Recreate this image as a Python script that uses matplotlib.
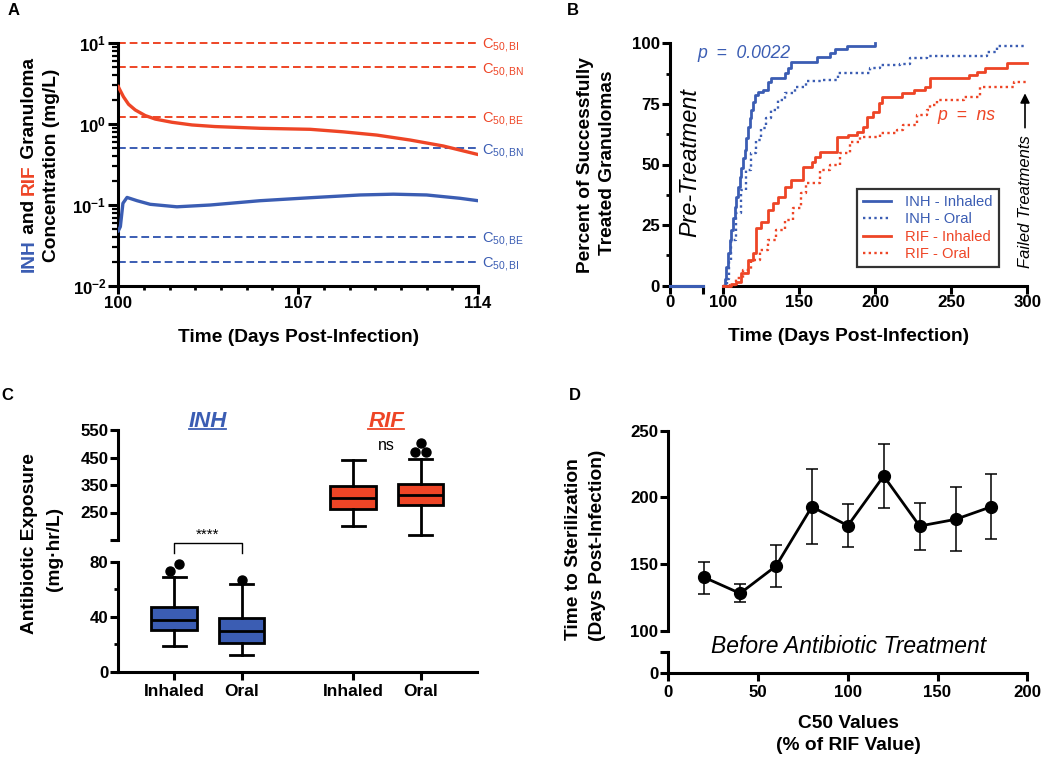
import numpy as np
import matplotlib.pyplot as plt
from matplotlib.lines import Line2D

plt.rcParams['font.family'] = ['Liberation Sans', 'DejaVu Sans']
plt.rcParams['mathtext.fontset'] = 'custom'
plt.rcParams['mathtext.rm'] = 'Liberation Sans'
plt.rcParams['mathtext.it'] = 'Liberation Sans:italic'
plt.rcParams['mathtext.bf'] = 'Liberation Sans:bold'

RED = '#EE4526'
BLUE = '#3B5DB3'

###############################################################################
# DATA
###############################################################################
# A - granuloma concentrations (mg/L)
rif_days = [100, 100.03, 100.2, 100.4, 100.66, 101.05, 101.44, 102.09, 102.87, 103.76, 105.52, 107.47,
            108.76, 110.06, 111.36, 112.65, 114]
rif_conc = [2.9, 2.76, 2.17, 1.75, 1.49, 1.27, 1.15, 1.05, 0.973, 0.93, 0.885, 0.86,
            0.80, 0.73, 0.634, 0.535, 0.42]
inh_days = [100, 100.08, 100.18, 100.34, 100.73, 101.24, 102.28, 103.58, 105.52, 107.47, 109.41, 110.71, 112.0, 113.3, 114]
inh_conc = [0.048, 0.054, 0.105, 0.124, 0.113, 0.102, 0.095, 0.1, 0.113, 0.123, 0.133, 0.136, 0.133, 0.121, 0.113]
rif_c50 = [10, 5, 1.22]
rif_c50_names = ['BI', 'BN', 'BE']
inh_c50 = [0.5, 0.04, 0.02]
inh_c50_names = ['BN', 'BE', 'BI']

# B - percent of successfully treated granulomas
inh_inh_days = [100, 101.7, 102.4, 103.5, 104.6, 105.7, 106.8, 107.9, 108.9, 110.1, 111.2, 112.2, 113.3,
                114.5, 115.5, 116.6, 117.7, 118.8, 119.9, 121.0, 123.2, 126.5, 129.8, 132, 140.7, 142.9,
                145.1, 161.8, 170.5, 173.8, 181.5, 200, 200]
inh_inh_pct = [0, 2.6, 7.8, 13.4, 18.9, 23, 27.8, 32.6, 36.7, 40.8, 45, 48.4, 52.6,
               56, 60.8, 65.6, 69, 72.5, 75.9, 78.7, 80, 80.7, 84.2, 85.6, 87.6, 89.7,
               92.4, 94.2, 96.1, 97.5, 98.9, 98.9, 100]
inh_oral_days = [100, 103, 104.4, 105.7, 108.9, 112.2, 115.5, 118.8, 122.1, 125.4, 128.7, 132, 136.3, 140.7,
                 147.3, 154.9, 165.1, 176, 196.8, 203.4, 216.5, 223.1, 234, 273.5, 280.1, 300]
inh_oral_pct = [0, 2.6, 10.6, 18.9, 30, 39.5, 47.7, 54.6, 60.1, 64.9, 69, 72.5, 76.6, 79.4,
                82.1, 84.6, 84.9, 87.9, 89.7, 91.0, 91.5, 93.8, 94.9, 96.5, 98.9, 98.9]
rif_inh_days = [100, 105.7, 108.9, 112.2, 116.6, 119.9, 122.1, 125.4, 129.8, 133.1, 136.3, 140.7, 145.1,
                152.8, 158.5, 160.7, 163.9, 174.9, 182.5, 188.1, 192.4, 194.6, 199, 202.3, 204.5, 217.6,
                225.3, 233, 236.3, 261.5, 267, 272.4, 286.7, 300]
rif_inh_pct = [0, 0.5, 1.7, 5.1, 10.6, 13.4, 23.7, 26.4, 31.2, 34, 36.7, 40.8, 43.6,
               49.1, 51.2, 53.2, 55.3, 61.5, 62.2, 63.5, 65.6, 69.7, 71.8, 75.2, 78, 79.4,
               80.7, 82.1, 85.6, 86.9, 88.3, 89.7, 91.7, 91.7]
rif_oral_days = [100, 104.6, 108.9, 113.3, 118.8, 124.3, 129.8, 135.3, 140.7, 146.2, 151.7, 155, 163.9,
                 170.5, 177.1, 183.7, 190.2, 203.4, 214.3, 218.7, 227.5, 234.1, 236.3, 240.7, 258.2,
                 269.1, 291, 300]
rif_oral_pct = [0, 0.3, 3, 6.5, 10.6, 14.7, 18.9, 23, 27.1, 31.9, 38.1, 42.2, 47.7,
                49.8, 54.6, 59.4, 61.5, 62.9, 64.2, 66.3, 70.4, 72.5, 74.5, 76.6, 78,
                82.1, 84.2, 84.2]

# C - antibiotic exposure box plots (mg*hr/L)
box_labels = ['Inhaled', 'Oral', 'Inhaled', 'Oral']
box_q1 = [30.3, 20.6, 261, 275.5]
box_med = [37.6, 29.6, 303.4, 314.4]
box_q3 = [46.8, 38.8, 347, 352]
box_wlo = [18.9, 11.9, 201.4, 170]
box_whi = [68.6, 63.8, 439.5, 444.3]
box_fliers = [[73.2, 78], [66.7], [], [471, 471, 503.8]]

# D - time to sterilization vs C50
c50_pct = [20, 40, 60, 80, 100, 120, 140, 160, 180]
ster_time = [140, 128, 148.5, 193, 178.75, 216, 178.5, 183.5, 193]
ster_lo = [127.75, 121.25, 133, 165.25, 162.75, 192, 160.75, 160, 168.75]
ster_hi = [151.75, 134.75, 164.25, 221.5, 195.25, 240, 196, 207.5, 217.25]

###############################################################################
W, H = 1050, 758
fig = plt.figure(figsize=(10.5, 7.58), dpi=100)


def rect(l, t, r, b):
    return [l / W, 1 - b / H, (r - l) / W, (b - t) / H]


def style(ax, left=True, bottom=True):
    for s in ['top', 'right']:
        ax.spines[s].set_visible(False)
    ax.spines['left'].set_visible(left)
    ax.spines['bottom'].set_visible(bottom)
    for s in ['left', 'bottom']:
        ax.spines[s].set_linewidth(2.2)
    ax.tick_params(which='major', length=5.5, width=2.2, labelsize=12.2, pad=1.5)
    ax.tick_params(which='minor', length=3, width=2.0)
    for lab in ax.get_xticklabels() + ax.get_yticklabels():
        lab.set_fontweight('bold')


def fig_text(x, y, s, **kw):
    return fig.text(x / W, 1 - y / H, s, **kw)


LBL = dict(fontsize=13.8, fontweight='bold', ha='center', va='center')

# ---------------------------------------------------------------- A
ax_a = fig.add_axes(rect(118.3, 43, 478, 286))
ax_a.set_yscale('log')
ax_a.plot(rif_days, rif_conc, color=RED, lw=2.4, zorder=3)
ax_a.plot(inh_days, inh_conc, color=BLUE, lw=2.4, zorder=3)
for vals, names, col in [(rif_c50, rif_c50_names, RED), (inh_c50, inh_c50_names, BLUE)]:
    for v, n in zip(vals, names):
        ax_a.axhline(v, color=col, ls=(0, (4, 2)), lw=1.4, clip_on=False)
        ax_a.annotate(r'C$_{\mathrm{50,%s}}$' % n, xy=(114, v), xytext=(3, -3.8),
                      textcoords='offset points', color=col, fontsize=10.5, va='baseline',
                      annotation_clip=False)
ax_a.set_xlim(100, 114)
ax_a.set_ylim(0.01, 10)
ax_a.set_xticks([100, 107, 114])
ax_a.set_xticks(np.arange(100, 115), minor=True)
ax_a.set_yticks([0.01, 0.1, 1, 10])
ax_a.set_yticklabels([r'$\mathbf{10^{-2}}$', r'$\mathbf{10^{-1}}$', r'$\mathbf{10^{0}}$', r'$\mathbf{10^{1}}$'])
style(ax_a)
ax_a.tick_params(axis='y', which='major', length=7)
ax_a.tick_params(axis='y', which='minor', length=4, width=1.6)

fig_text(298.3, 337.3, 'Time (Days Post-Infection)', **LBL)
# multicolour y label, line 1, built piece by piece from the bottom up
parts = [('INH', BLUE), (' and ', 'black'), ('RIF', RED), (' Granuloma', 'black')]
prev = fig_text(29, 272, parts[0][0], color=parts[0][1], rotation=90, fontsize=13.8,
                fontweight='bold', ha='center', va='bottom')
for s, c in parts[1:]:
    prev = ax_a.annotate(s, xy=(0.5, 1), xycoords=prev, color=c, rotation=90, fontsize=13.8,
                         fontweight='bold', ha='center', va='bottom')
fig_text(52, 165, 'Concentration (mg/L)', rotation=90, **LBL)

# ---------------------------------------------------------------- B
ax_b1 = fig.add_axes(rect(669.7, 43.3, 702.7, 285.7))
ax_b2 = fig.add_axes(rect(722.7, 43.3, 1027.3, 285.7))
ax_b1.plot([0, 20], [0, 0], color=BLUE, lw=2.2, clip_on=False, zorder=4)
ax_b1.set_xlim(0, 20)
ax_b1.set_ylim(0, 100)
ax_b1.set_xticks([0, 20])
ax_b1.set_xticklabels(['0', ''])
ax_b1.set_yticks([0, 25, 50, 75, 100])
ax_b1.set_yticks([12.5, 37.5, 62.5, 87.5], minor=True)
style(ax_b1)

ax_b2.plot(inh_inh_days, inh_inh_pct, drawstyle='steps-post', color=BLUE, lw=2.0,
           label='INH - Inhaled', clip_on=False, zorder=4)
ax_b2.plot(inh_oral_days, inh_oral_pct, drawstyle='steps-post', color=BLUE, lw=1.7,
           ls=(0, (1, 1.4)), label='INH - Oral', clip_on=False, zorder=4)
ax_b2.plot(rif_inh_days, rif_inh_pct, drawstyle='steps-post', color=RED, lw=2.0,
           label='RIF - Inhaled', clip_on=False, zorder=4)
ax_b2.plot(rif_oral_days, rif_oral_pct, drawstyle='steps-post', color=RED, lw=1.7,
           ls=(0, (1, 1.4)), label='RIF - Oral', clip_on=False, zorder=4)
ax_b2.set_xlim(100, 300)
ax_b2.set_ylim(0, 100)
ax_b2.set_xticks([100, 150, 200, 250, 300])
ax_b2.set_yticks([])
style(ax_b2, left=False)
leg = ax_b2.legend(loc='lower left', bbox_to_anchor=(0.44, 0.078), fontsize=10.6,
                   frameon=True, fancybox=False, edgecolor='black', handlelength=1.9,
                   handletextpad=1.0, labelspacing=0.22, borderpad=0.4, borderaxespad=0)
leg.get_frame().set_linewidth(1.6)
for t, c in zip(leg.get_texts(), [BLUE, BLUE, RED, RED]):
    t.set_color(c)

fig_text(586, 165, 'Percent of Successfully', rotation=90, **LBL)
fig_text(608, 162.5, 'Treated Granulomas', rotation=90, **LBL)
fig_text(848.3, 336.7, 'Time (Days Post-Infection)', **LBL)
fig_text(690, 163, 'Pre-Treatment', rotation=90, fontsize=16.8, style='italic', ha='center', va='center')
fig_text(697, 53, 'p  =  0.0022', color=BLUE, fontsize=12.7, style='italic', ha='left', va='center')
fig_text(937, 116, 'p  =  ns', color=RED, fontsize=12.7, style='italic', ha='left', va='center')
fig_text(1025, 202, 'Failed Treatments', rotation=90, fontsize=12, style='italic', ha='center', va='center')
fig.add_artist(plt.Annotation('', xy=(1025 / W, 1 - 93.3 / H), xytext=(1025 / W, 1 - 127.7 / H),
                              xycoords='figure fraction', textcoords='figure fraction',
                              arrowprops=dict(arrowstyle='-|>', color='black', lw=1.2,
                                              mutation_scale=14, shrinkA=0, shrinkB=0)))

# ---------------------------------------------------------------- C
ax_c1 = fig.add_axes(rect(118.3, 430, 476.7, 540))
ax_c2 = fig.add_axes(rect(118.3, 561.7, 476.7, 671.7))
box_pos = [1, 2, 3.656, 4.656]
stats = []
for i in range(4):
    stats.append(dict(med=box_med[i], q1=box_q1[i], q3=box_q3[i], whislo=box_wlo[i],
                      whishi=box_whi[i], fliers=[], label=box_labels[i]))
bprops = dict(patch_artist=True, showfliers=False, widths=0.68,
              boxprops=dict(linewidth=2.0, edgecolor='black'),
              medianprops=dict(color='black', linewidth=2.0),
              whiskerprops=dict(color='black', linewidth=2.0),
              capprops=dict(color='black', linewidth=2.0))
b_low = ax_c2.bxp(stats[:2], positions=box_pos[:2], **bprops)
b_up = ax_c1.bxp(stats[2:], positions=box_pos[2:], **bprops)
for p in b_low['boxes']:
    p.set_facecolor(BLUE)
for p in b_up['boxes']:
    p.set_facecolor(RED)
# outliers, nudged sideways as in the original
flier_dx = [[-0.07, 0.07], [0.0], [], [-0.08, 0.08, 0.0]]
for i in range(4):
    ax = ax_c2 if i < 2 else ax_c1
    for v, dx in zip(box_fliers[i], flier_dx[i]):
        ax.plot(box_pos[i] + dx, v, 'o', color='black', ms=6.5, clip_on=False)

for ax in (ax_c1, ax_c2):
    ax.set_xlim(0.17, 5.49)
ax_c1.set_ylim(150, 550)
ax_c1.set_yticks([150, 250, 350, 450, 550])
ax_c1.set_yticklabels(['', '250', '350', '450', '550'])
ax_c1.set_xticks([])
style(ax_c1, bottom=False)
ax_c2.set_ylim(0, 80)
ax_c2.set_yticks([0, 40, 80])
ax_c2.set_yticks([20, 60], minor=True)
ax_c2.set_xticks(box_pos)
ax_c2.set_xticklabels(box_labels)
style(ax_c2)
ax_c2.tick_params(axis='x', labelsize=12.5, pad=3)

ax_c2.plot([1, 1, 2, 2], [86.1, 93.4, 93.4, 86.1], color='black', lw=1.0, clip_on=False)
ax_c2.text(1.5, 94.5, '****', ha='center', va='bottom', fontsize=11, clip_on=False)
ax_c1.text(4.156, 495, 'ns', ha='center', va='center', fontsize=11.5)

fig_text(207.3, 426.7, 'INH', color=BLUE, fontsize=16, fontweight='bold', style='italic',
         ha='center', va='baseline')
fig_text(386.7, 426.7, 'RIF', color=RED, fontsize=16, fontweight='bold', style='italic',
         ha='center', va='baseline')
fig.add_artist(Line2D([188.7 / W, 226 / W], [1 - 429 / H] * 2, color=BLUE, lw=1.3))
fig.add_artist(Line2D([368.3 / W, 404 / W], [1 - 429 / H] * 2, color=RED, lw=1.3))
fig_text(30, 544, 'Antibiotic Exposure', rotation=90, **LBL)
fig_text(55, 549, '(mg·hr/L)', rotation=90, **LBL)

# ---------------------------------------------------------------- D
ax_d1 = fig.add_axes(rect(668.3, 430.7, 1027.3, 630.7))
ax_d2 = fig.add_axes(rect(668.3, 651.7, 1027.3, 673.3))
yerr = [np.array(ster_time) - np.array(ster_lo), np.array(ster_hi) - np.array(ster_time)]
ax_d1.errorbar(c50_pct, ster_time, yerr=yerr, fmt='-o', color='black', lw=2.0, ms=8.5,
               elinewidth=1.1, capsize=4.5, capthick=1.1, clip_on=False)
ax_d1.set_xlim(0, 200)
ax_d1.set_ylim(100, 250)
ax_d1.set_yticks([100, 150, 200, 250])
ax_d1.set_xticks([])
style(ax_d1, bottom=False)
ax_d2.set_xlim(0, 200)
ax_d2.set_ylim(0, 16)
ax_d2.set_yticks([0, 16])
ax_d2.set_yticklabels(['0', ''])
ax_d2.set_xticks([0, 50, 100, 150, 200])
style(ax_d2)
ax_d2.tick_params(axis='x', pad=3)

fig_text(848.3, 646.7, 'Before Antibiotic Treatment', fontsize=16.5, style='italic',
         ha='center', va='center')
fig_text(573, 549, 'Time to Sterilization', rotation=90, **LBL)
fig_text(598, 545, '(Days Post-Infection)', rotation=90, **LBL)
fig_text(848.3, 723, 'C50 Values', **LBL)
fig_text(848.3, 745, '(% of RIF Value)', **LBL)

# panel letters
for x, y, s in [(8, 15, 'A'), (566.7, 15, 'B'), (1, 400, 'C'), (569.3, 400, 'D')]:
    fig_text(x, y, s, fontsize=12, fontweight='bold', ha='left', va='baseline')

fig.savefig('out.png', dpi=100)
